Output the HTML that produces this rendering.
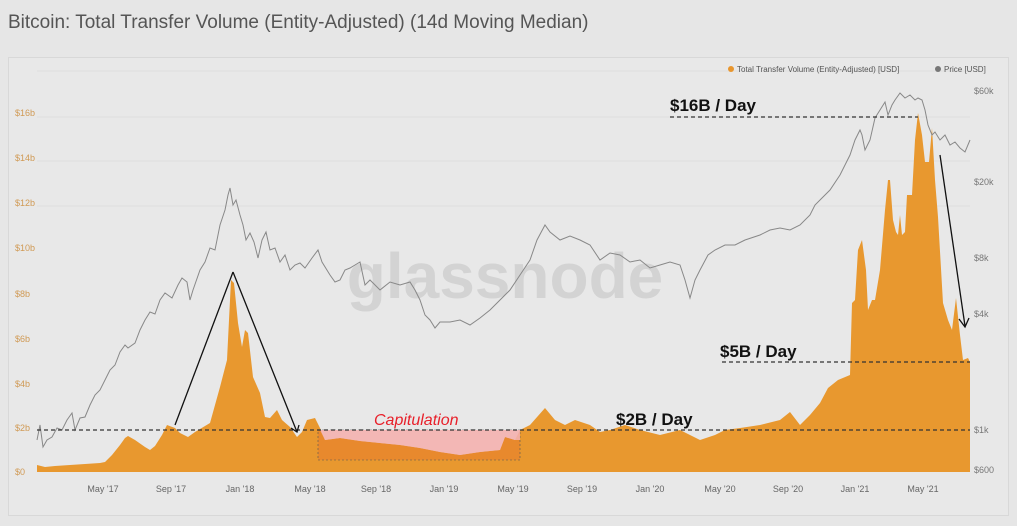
<!DOCTYPE html>
<html><head><meta charset="utf-8"><style>
body{margin:0;width:1017px;height:521px;background:#e6e6e6;overflow:hidden;font-family:"Liberation Sans",sans-serif}
</style></head><body>
<svg width="1017" height="521" xmlns="http://www.w3.org/2000/svg" font-family="Liberation Sans, sans-serif">
<rect x="0" y="0" width="1017" height="521" fill="#e6e6e6"/>
<text x="8" y="28" font-size="19" fill="#555">Bitcoin: Total Transfer Volume (Entity-Adjusted) (14d Moving Median)</text>
<rect x="8.5" y="57.5" width="1000" height="458" fill="#e8e8e8" stroke="#d8d8d8"/>
<g stroke="#dedede" stroke-width="1">
<line x1="37" x2="970" y1="71" y2="71"/><line x1="37" x2="970" y1="117" y2="117"/><line x1="37" x2="970" y1="161" y2="161"/><line x1="37" x2="970" y1="206" y2="206"/>
</g>
<g font-size="9" fill="#d09a55">
<text x="15" y="116">$16b</text><text x="15" y="161">$14b</text><text x="15" y="206">$12b</text><text x="15" y="251">$10b</text><text x="15" y="297">$8b</text><text x="15" y="342">$6b</text><text x="15" y="387">$4b</text><text x="15" y="431">$2b</text><text x="15" y="475">$0</text>
</g>
<g font-size="9" fill="#777">
<text x="974" y="94">$60k</text><text x="974" y="185">$20k</text><text x="974" y="261">$8k</text><text x="974" y="317">$4k</text><text x="974" y="433">$1k</text><text x="974" y="473">$600</text>
</g>
<g font-size="9" fill="#666" text-anchor="middle">
<text x="103" y="492">May '17</text><text x="171" y="492">Sep '17</text><text x="240" y="492">Jan '18</text><text x="310" y="492">May '18</text><text x="376" y="492">Sep '18</text><text x="444" y="492">Jan '19</text><text x="513" y="492">May '19</text><text x="582" y="492">Sep '19</text><text x="650" y="492">Jan '20</text><text x="720" y="492">May '20</text><text x="788" y="492">Sep '20</text><text x="855" y="492">Jan '21</text><text x="923" y="492">May '21</text>
</g>
<circle cx="731" cy="69" r="3" fill="#e8962e"/><text x="737" y="72" font-size="8" fill="#555">Total Transfer Volume (Entity-Adjusted) [USD]</text>
<circle cx="938" cy="69" r="3" fill="#777"/><text x="944" y="72" font-size="8" fill="#555">Price [USD]</text>
<text x="505" y="298" font-size="64" fill="rgba(0,0,0,0.09)" text-anchor="middle" font-weight="bold">glassnode</text>
<polygon fill="#e8982f" points="37,472 37,465 45,467 55,466 70,465 100,463 105,462 112,455 120,445 125,438 128,436 135,440 145,447 150,450 155,446 162,435 167,425 175,428 180,433 188,437 195,432 210,423 220,387 227,360 231,280 234,283 238,323 242,347 245,330 248,333 253,377 260,393 265,417 270,418 277,410 282,420 290,427 297,437 302,432 307,420 315,418 320,428 325,440 340,438 360,441 380,443 400,445 420,448 440,452 460,455 480,452 500,450 505,437 515,440 520,430 530,425 545,408 555,420 565,425 575,420 590,425 600,432 610,430 625,425 640,430 660,435 680,430 700,440 715,435 725,430 740,428 760,425 780,420 790,412 800,425 810,415 820,403 828,388 838,380 850,375 852,303 855,300 858,250 862,240 866,270 868,310 872,300 875,300 880,270 885,210 888,180 890,180 893,220 896,232 898,235 900,215 902,235 905,232 907,195 912,195 915,140 918,113 922,135 925,162 929,162 932,128 935,180 938,217 943,303 948,320 952,330 956,298 960,335 963,360 968,358 970,362 970,472"/>
<rect x="318" y="430" width="202" height="30" fill="rgba(230,90,40,0.25)" stroke="#555" stroke-width="0.6" stroke-dasharray="2,2"/>
<polygon fill="rgba(245,180,180,0.85)" points="318,430 520,430 520,440 515,440 505,437 500,450 480,452 460,455 440,452 420,448 400,445 380,443 360,441 340,438 325,440 320,430"/>
<polyline fill="none" stroke="#888" stroke-width="1" points="37,440 40,425 43,447 47,440 52,437 57,428 62,430 67,420 72,413 75,430 80,418 85,417 90,405 95,395 100,390 105,380 110,370 115,365 120,352 125,345 128,348 135,343 140,330 145,320 150,312 155,314 160,300 165,293 172,298 178,285 182,278 187,282 190,300 193,290 200,270 205,262 210,248 215,250 220,225 225,210 228,195 230,188 233,205 236,200 240,215 243,225 246,240 250,233 254,242 258,258 262,240 266,232 270,250 275,248 280,262 285,255 290,270 295,265 300,263 305,268 312,258 318,250 322,262 330,275 335,282 340,280 345,270 350,268 355,265 360,262 365,285 370,280 380,290 390,282 400,285 410,282 415,290 420,300 425,315 430,320 435,328 440,322 450,322 460,320 470,325 480,318 490,310 500,300 510,290 520,275 530,260 537,240 545,225 550,232 560,240 570,236 580,240 590,245 600,260 610,253 620,255 630,262 640,260 650,268 660,265 670,262 680,265 685,280 690,298 695,280 700,270 708,255 715,250 725,245 735,245 745,240 760,235 770,230 780,228 790,230 800,225 810,215 815,205 825,195 830,190 840,175 845,165 850,155 855,140 860,130 862,135 865,150 870,140 875,118 880,110 885,102 888,115 892,105 895,100 900,93 905,98 910,95 915,100 918,98 922,100 925,110 928,125 932,135 935,132 940,140 945,135 950,145 955,142 960,148 965,152 970,140"/>
<g stroke="#333" stroke-width="1.3" stroke-dasharray="4,3">
<line x1="37" x2="970" y1="430" y2="430"/><line x1="670" x2="918" y1="117" y2="117"/><line x1="722" x2="970" y1="362" y2="362"/>
</g>
<g stroke="#111" stroke-width="1.3" fill="none">
<line x1="175" y1="425" x2="233" y2="272"/><line x1="233" y1="272" x2="297" y2="432"/><polyline points="291,428 297,432 299,425"/>
<line x1="940" y1="155" x2="965" y2="326"/><polyline points="959,319 965,327 969,318"/>
</g>
<g font-size="17" fill="#111" font-weight="bold">
<text x="670" y="111">$16B / Day</text><text x="720" y="357">$5B / Day</text><text x="616" y="425">$2B / Day</text>
</g>
<text x="374" y="425" font-size="16" fill="#e8202a" font-style="italic">Capitulation</text>
</svg>
</body></html>
